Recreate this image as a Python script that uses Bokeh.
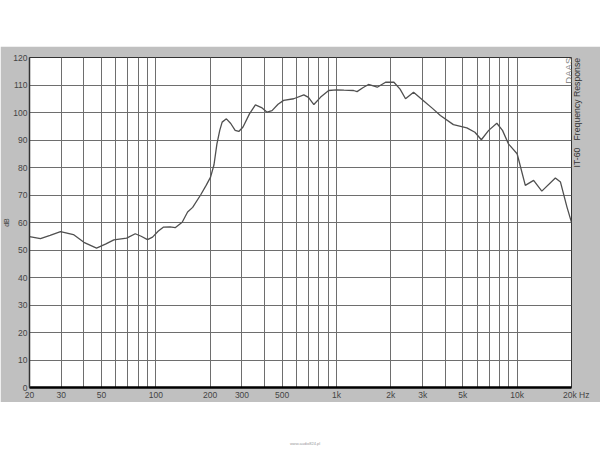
import math
from bokeh.plotting import figure
from bokeh.models import (FixedTicker, Label, Div, Spacer, ColumnDataSource, LinearAxis)
from bokeh.layouts import column
from bokeh.embed import file_html
from bokeh.resources import INLINE

# ---- data ----
freq = [20, 23, 26, 29.7, 35, 40, 47, 53, 58.6, 69, 77, 83, 90, 96, 103, 110, 120, 128,
        140, 150, 160, 177, 190, 201, 210, 218, 226, 233, 246, 260, 275, 288, 304, 330,
        356, 385, 413, 440, 475, 510, 580, 660, 700, 750, 818, 906, 1000, 1100, 1244,
        1300, 1400, 1504, 1682, 1870, 2080, 2250, 2412, 2672, 3020, 3400, 3760, 4440,
        5270, 5840, 6340, 6960, 7720, 8300, 8950, 10000, 11100, 12340, 13700, 16280,
        17380, 18880, 20000]
spl = [54.9, 54.1, 55.3, 56.7, 55.6, 52.8, 50.7, 52.2, 53.7, 54.3, 55.9, 55.0, 53.8, 54.7,
       56.8, 58.3, 58.4, 58.1, 60.1, 63.8, 65.5, 70.0, 73.5, 76.5, 81.0, 88.6, 93.5, 96.5,
       97.7, 96.0, 93.5, 93.1, 94.7, 99.5, 102.8, 101.8, 100.1, 100.7, 103.0, 104.4, 105.0,
       106.4, 105.5, 102.9, 105.6, 108.0, 108.2, 108.1, 108.0, 107.6, 109.0, 110.2, 109.2,
       111.0, 111.0, 108.5, 105.0, 107.4, 104.4, 101.5, 98.9, 95.6, 94.4, 92.8, 90.1, 93.5,
       96.1, 93.5, 88.6, 85.0, 73.5, 75.3, 71.4, 76.2, 74.7, 65.6, 60.1]

x_tick_values = [20, 30, 50, 100, 200, 300, 500, 1000, 2000, 3000, 5000, 10000, 20000]
NB = "\u00a0"
x_tick_labels = ["20", "30", "50", "100", "200", "300", "500", "1k", "2k", "3k", "5k", "10k",
                 NB * 4 + "20k" + NB + "Hz"]
x_grid_values = [20, 30, 40, 50, 60, 70, 80, 90, 100, 200, 300, 400, 500, 600, 700, 800, 900,
                 1000, 2000, 3000, 4000, 5000, 6000, 7000, 8000, 9000, 10000, 20000]
y_tick_values = [0, 10, 20, 30, 40, 50, 60, 70, 80, 90, 100, 110, 120]
title_text = "IT-60" + NB * 3 + "Frequency Response"
title_pos = [80]
logo_text = "DAAS"

GRAY = "#c0c0c0"
FONT = "Liberation Sans"
LBL = "8.5px"

p = figure(width=600, height=356, x_axis_type="log", x_range=(20, 20000), y_range=(0, 120),
           output_backend="svg", toolbar_location=None,
           min_border_left=29, min_border_right=29, min_border_top=11, min_border_bottom=15)
p.background_fill_color = "white"
p.border_fill_color = GRAY
p.outline_line_color = "#333333"
p.outline_line_width = 1

xa = p.xaxis[0]
xa.ticker = FixedTicker(ticks=x_tick_values)
xa.major_label_overrides = {v: l for v, l in zip(x_tick_values, x_tick_labels)}
xa.axis_line_color = "black"
xa.axis_line_width = 2.5
xa.major_tick_line_color = None
xa.minor_tick_line_color = None
xa.major_tick_out = 0
xa.major_tick_in = 0
xa.major_label_standoff = 2
xa.major_label_text_font = FONT
xa.major_label_text_font_size = LBL
xa.major_label_text_color = "#444444"

ya = p.yaxis[0]
ya.ticker = FixedTicker(ticks=y_tick_values)
ya.axis_line_color = "#333333"
ya.axis_line_width = 1.5
ya.major_tick_line_color = None
ya.minor_tick_line_color = None
ya.major_tick_out = 0
ya.major_tick_in = 0
ya.major_label_standoff = 2
ya.major_label_text_font = FONT
ya.major_label_text_font_size = LBL
ya.major_label_text_color = "#444444"
ya.axis_label = "dB"
ya.axis_label_standoff = 0
ya.axis_label_text_font = FONT
ya.axis_label_text_font_size = "7px"
ya.axis_label_text_font_style = "normal"
ya.axis_label_text_color = "#444444"

# right-hand axis carrying the vertical title text
ra = LinearAxis(ticker=FixedTicker(ticks=title_pos),
                major_label_overrides={title_pos[0]: title_text},
                major_label_orientation=math.pi / 2,
                axis_line_color=None, major_tick_line_color=None, minor_tick_line_color=None,
                major_tick_out=0, major_tick_in=0, major_label_standoff=5,
                major_label_text_font=FONT, major_label_text_font_size="8.7px",
                major_label_text_color="#333333")
p.add_layout(ra, "right")

p.xgrid[0].ticker = FixedTicker(ticks=x_grid_values)
p.xgrid[0].grid_line_color = "#6e6e6e"
p.xgrid[0].grid_line_width = 1
p.ygrid[0].ticker = FixedTicker(ticks=y_tick_values)
p.ygrid[0].grid_line_color = "#6e6e6e"
p.ygrid[0].grid_line_width = 1

src = ColumnDataSource(data=dict(f=freq, db=spl))
p.line("f", "db", source=src, line_color="#505050", line_width=1.3)

# logo inside the frame, top right corner
p.add_layout(Label(x=19200, y=110.5, text=logo_text, angle=90, angle_units="deg",
                   text_font=FONT, text_font_size="9.5px",
                   text_color="#8a8a8a", text_align="left", text_baseline="middle"))

top = Spacer(width=600, height=46)
foot = Div(text='<div style="width:600px;text-align:center;font-size:4px;color:#999;'
                'font-family:Liberation Sans;padding-top:34px;">www.audio824.pl</div>',
           width=600, height=46)

layout = column(top, p, foot, spacing=0)
open("out.html", "w").write(file_html(layout, INLINE))
